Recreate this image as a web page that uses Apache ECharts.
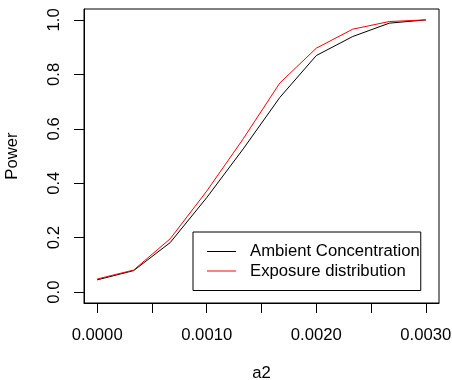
<!DOCTYPE html>
<html>
<head>
<meta charset="utf-8">
<script src="https://cdn.jsdelivr.net/npm/echarts@6/dist/echarts.min.js"></script>
<style>
  html, body { margin: 0; padding: 0; background: #fff; }
  #chart { width: 452px; height: 380px; }
</style>
</head>
<body>
<div id="chart"></div>
<script>
// a2 values on the x axis
const a2 = [0, 0.000333, 0.000667, 0.001, 0.001333, 0.001667, 0.002, 0.002333, 0.002667, 0.003]
// power curves
const ambient = [0.045, 0.079, 0.182, 0.347, 0.526, 0.715, 0.869, 0.939, 0.988, 1.0]
const exposure = [0.048, 0.081, 0.196, 0.371, 0.563, 0.768, 0.896, 0.966, 0.994, 1.0]
// ticks
const xTicks = [0, 0.0005, 0.001, 0.0015, 0.002, 0.0025, 0.003]
const xLabels = [0, 0.001, 0.002, 0.003]
const yTicks = [0, 0.2, 0.4, 0.6, 0.8, 1.0]

const font = 'Liberation Sans, Arial, Helvetica, sans-serif'
const fs = 16.7
// thin horizontal line as legend key (zero-length subpaths keep the box 29x14)
const lineIcon = 'path://M0,0L0,0M0,14L0,14M0,6.5L29,6.5L29,7.5L0,7.5Z'

const pairs = ys => a2.map((x, i) => [x, ys[i]])

const chart = echarts.init(document.getElementById('chart'), null, { renderer: 'canvas' })
chart.setOption({
  animation: false,
  backgroundColor: '#fff',
  textStyle: { fontFamily: font, color: '#000' },
  grid: {
    left: 84, right: 13, top: 9, bottom: 77,
    outerBoundsMode: 'none',
    show: true, borderColor: '#000', borderWidth: 1, backgroundColor: 'transparent'
  },
  legend: {
    orient: 'vertical',
    left: 193, top: 232,
    padding: [11, 1, 11, 14],
    itemGap: 2.5,
    itemWidth: 29, itemHeight: 14,
    icon: lineIcon,
    borderColor: '#000', borderWidth: 1,
    textStyle: { fontFamily: font, fontSize: fs, color: '#000', padding: [0, 0, 0, 9] },
    data: ['Ambient Concentration', 'Exposure distribution']
  },
  xAxis: {
    type: 'value',
    min: -0.00012, max: 0.00312,
    name: 'a2', nameLocation: 'middle', nameGap: 62,
    nameTextStyle: { fontFamily: font, fontSize: fs, color: '#000' },
    axisLine: { show: true, onZero: false, lineStyle: { color: '#000' } },
    splitLine: { show: false },
    axisTick: { show: true, inside: false, length: 10, customValues: xTicks, lineStyle: { color: '#000' } },
    axisLabel: {
      customValues: xLabels, margin: 24,
      fontFamily: font, fontSize: fs, color: '#000',
      formatter: v => v.toFixed(4)
    }
  },
  yAxis: {
    type: 'value',
    min: -0.04, max: 1.04,
    name: 'Power', nameLocation: 'middle', nameGap: 63,
    nameTextStyle: { fontFamily: font, fontSize: fs, color: '#000' },
    axisLine: { show: true, onZero: false, lineStyle: { color: '#000' } },
    splitLine: { show: false },
    axisTick: { show: true, inside: false, length: 10, customValues: yTicks, lineStyle: { color: '#000' } },
    axisLabel: {
      customValues: yTicks, rotate: 90, margin: 21,
      fontFamily: font, fontSize: fs, color: '#000',
      formatter: v => v.toFixed(1)
    }
  },
  series: [
    {
      name: 'Ambient Concentration', type: 'line', symbol: 'none',
      lineStyle: { color: '#000', width: 1 }, itemStyle: { color: '#000' },
      data: pairs(ambient)
    },
    {
      name: 'Exposure distribution', type: 'line', symbol: 'none',
      lineStyle: { color: '#ff0000', width: 1 }, itemStyle: { color: '#ff0000' },
      data: pairs(exposure)
    }
  ]
})
</script>
</body>
</html>
